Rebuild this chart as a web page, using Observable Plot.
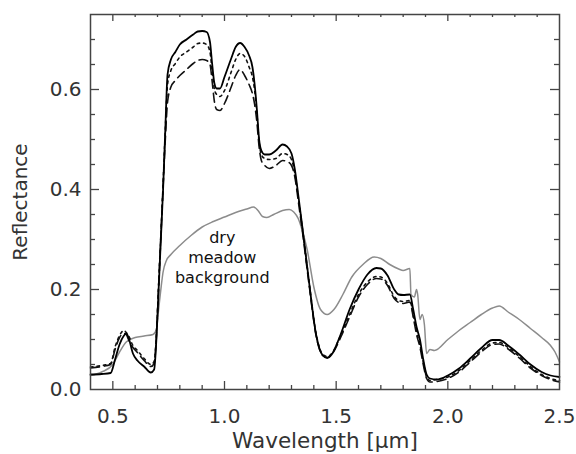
<!DOCTYPE html>
<html>
<head>
<meta charset="utf-8">
<script src="https://cdn.jsdelivr.net/npm/d3@7"></script>
<script src="https://cdn.jsdelivr.net/npm/@observablehq/plot@0.6"></script>
<style>
  html, body { margin: 0; padding: 0; background: white; }
</style>
</head>
<body>
<div id="chart"></div>
<script>
// Wavelength grid (µm) for the black canopy spectra
const wlBlack = [0.40, 0.45, 0.49, 0.51, 0.53, 0.55, 0.56, 0.57, 0.59, 0.61, 0.64, 0.67, 0.685, 0.695, 0.705, 0.715, 0.725, 0.735, 0.745, 0.76, 0.78, 0.80, 0.83, 0.86, 0.88, 0.90, 0.92, 0.935, 0.945, 0.955, 0.965, 0.98, 1.00, 1.03, 1.05, 1.07, 1.09, 1.11, 1.125, 1.135, 1.145, 1.155, 1.165, 1.18, 1.20, 1.23, 1.26, 1.28, 1.30, 1.315, 1.33, 1.35, 1.38, 1.41, 1.44, 1.46, 1.48, 1.52, 1.56, 1.60, 1.64, 1.68, 1.70, 1.73, 1.76, 1.78, 1.80, 1.83, 1.845, 1.86, 1.875, 1.89, 1.905, 1.92, 1.95, 2.00, 2.05, 2.10, 2.15, 2.20, 2.23, 2.27, 2.32, 2.37, 2.42, 2.46, 2.50];

// Solid line
const refSolid = [0.030, 0.031, 0.033, 0.060, 0.090, 0.108, 0.112, 0.104, 0.072, 0.058, 0.046, 0.034, 0.040, 0.100, 0.200, 0.300, 0.400, 0.520, 0.630, 0.660, 0.675, 0.690, 0.700, 0.710, 0.716, 0.717, 0.715, 0.695, 0.650, 0.612, 0.602, 0.602, 0.625, 0.662, 0.685, 0.693, 0.685, 0.668, 0.645, 0.610, 0.560, 0.500, 0.478, 0.470, 0.470, 0.478, 0.490, 0.486, 0.472, 0.440, 0.390, 0.320, 0.210, 0.110, 0.068, 0.063, 0.070, 0.110, 0.160, 0.200, 0.230, 0.243, 0.242, 0.228, 0.200, 0.190, 0.189, 0.190, 0.160, 0.125, 0.100, 0.060, 0.030, 0.022, 0.020, 0.028, 0.042, 0.062, 0.083, 0.099, 0.099, 0.088, 0.070, 0.050, 0.035, 0.028, 0.025];

// Short-dashed line
const refDotted = [0.045, 0.048, 0.052, 0.085, 0.108, 0.118, 0.114, 0.108, 0.088, 0.078, 0.062, 0.050, 0.056, 0.110, 0.210, 0.310, 0.410, 0.520, 0.610, 0.638, 0.652, 0.665, 0.675, 0.685, 0.692, 0.693, 0.690, 0.675, 0.635, 0.600, 0.590, 0.586, 0.598, 0.635, 0.660, 0.672, 0.666, 0.645, 0.625, 0.598, 0.552, 0.495, 0.470, 0.462, 0.460, 0.462, 0.472, 0.470, 0.460, 0.432, 0.385, 0.318, 0.210, 0.112, 0.070, 0.066, 0.072, 0.108, 0.150, 0.190, 0.215, 0.226, 0.225, 0.212, 0.186, 0.178, 0.176, 0.178, 0.150, 0.115, 0.090, 0.055, 0.025, 0.018, 0.020, 0.025, 0.038, 0.058, 0.078, 0.093, 0.094, 0.084, 0.066, 0.046, 0.030, 0.022, 0.018];

// Long-dashed line
const refDashed = [0.043, 0.046, 0.050, 0.080, 0.104, 0.112, 0.110, 0.100, 0.084, 0.074, 0.058, 0.046, 0.052, 0.105, 0.205, 0.305, 0.405, 0.500, 0.575, 0.605, 0.618, 0.628, 0.640, 0.652, 0.658, 0.660, 0.658, 0.650, 0.615, 0.575, 0.560, 0.558, 0.572, 0.605, 0.628, 0.640, 0.628, 0.610, 0.592, 0.570, 0.535, 0.485, 0.458, 0.448, 0.442, 0.448, 0.458, 0.456, 0.448, 0.425, 0.378, 0.312, 0.205, 0.108, 0.068, 0.064, 0.070, 0.104, 0.145, 0.185, 0.210, 0.222, 0.221, 0.208, 0.182, 0.174, 0.172, 0.175, 0.145, 0.110, 0.085, 0.050, 0.022, 0.015, 0.016, 0.022, 0.035, 0.055, 0.075, 0.090, 0.091, 0.081, 0.063, 0.043, 0.028, 0.020, 0.015];

// Grey: dry meadow background
const wlBackground = [0.40, 0.45, 0.50, 0.53, 0.56, 0.60, 0.64, 0.68, 0.695, 0.705, 0.715, 0.725, 0.74, 0.76, 0.80, 0.85, 0.90, 0.95, 1.00, 1.05, 1.10, 1.13, 1.15, 1.17, 1.19, 1.22, 1.26, 1.29, 1.31, 1.33, 1.35, 1.37, 1.40, 1.43, 1.46, 1.49, 1.53, 1.57, 1.62, 1.67, 1.70, 1.74, 1.78, 1.80, 1.83, 1.835, 1.85, 1.86, 1.865, 1.875, 1.885, 1.895, 1.905, 1.92, 1.94, 2.00, 2.05, 2.10, 2.15, 2.20, 2.23, 2.27, 2.32, 2.37, 2.42, 2.46, 2.48, 2.50];
const refBackground = [0.028, 0.035, 0.050, 0.075, 0.095, 0.104, 0.107, 0.110, 0.120, 0.160, 0.200, 0.235, 0.258, 0.270, 0.288, 0.308, 0.325, 0.336, 0.345, 0.354, 0.361, 0.365, 0.358, 0.346, 0.344, 0.350, 0.358, 0.360, 0.355, 0.342, 0.315, 0.280, 0.205, 0.160, 0.150, 0.160, 0.190, 0.225, 0.250, 0.265, 0.262, 0.250, 0.241, 0.238, 0.242, 0.190, 0.185, 0.200, 0.190, 0.140, 0.150, 0.130, 0.072, 0.080, 0.078, 0.100, 0.118, 0.134, 0.150, 0.163, 0.167, 0.155, 0.140, 0.122, 0.104, 0.088, 0.075, 0.055];

// Ticks
const xMajor = [0.5, 1.0, 1.5, 2.0];
const xMinor = [0.6, 0.7, 0.8, 0.9, 1.1, 1.2, 1.3, 1.4, 1.6, 1.7, 1.8, 1.9, 2.1, 2.2, 2.3, 2.4];
const xLabels = [0.5, 1.0, 1.5, 2.0, 2.5];
const yMajor = [0.2, 0.4, 0.6];
const yMinor = [0.05, 0.1, 0.15, 0.25, 0.3, 0.35, 0.45, 0.5, 0.55, 0.65, 0.7];
const yLabels = [0.0, 0.2, 0.4, 0.6];

// Annotation
const annotation = [{wl: 0.99, r: 0.265, label: "dry\nmeadow\nbackground"}];

const W = 576, H = 454;
const mL = 90, mR = 17, mT = 14, mB = 65;
const fw = W - mL - mR, fh = H - mT - mB;
const axisColor = "#444";

const chart = Plot.plot({
  width: W, height: H,
  marginLeft: mL, marginRight: mR, marginTop: mT, marginBottom: mB,
  x: {domain: [0.4, 2.5]},
  y: {domain: [0, 0.75]},
  style: {fontFamily: "DejaVu Sans, sans-serif", fontSize: "20px", color: "#333", background: "white"},
  marks: [
    Plot.line(wlBackground, {x: wlBackground, y: refBackground, stroke: "#8c8c8c", strokeWidth: 1.5, curve: "monotone-x"}),
    Plot.line(wlBlack, {x: wlBlack, y: refDashed, stroke: "#111", strokeWidth: 1.6, strokeDasharray: "9,5", curve: "monotone-x"}),
    Plot.line(wlBlack, {x: wlBlack, y: refDotted, stroke: "#111", strokeWidth: 1.6, strokeDasharray: "2.5,4", curve: "monotone-x"}),
    Plot.line(wlBlack, {x: wlBlack, y: refSolid, stroke: "#000", strokeWidth: 1.8, curve: "monotone-x"}),
    // inward ticks
    Plot.tickX(xMajor, {x: d => d, insetTop: fh - 8, stroke: axisColor, strokeWidth: 1.3}),
    Plot.tickX(xMinor, {x: d => d, insetTop: fh - 4, stroke: axisColor, strokeWidth: 1.3}),
    Plot.tickX(xMajor, {x: d => d, insetBottom: fh - 7, stroke: axisColor, strokeWidth: 1.3}),
    Plot.tickX(xMinor, {x: d => d, insetBottom: fh - 3, stroke: axisColor, strokeWidth: 1.3}),
    Plot.tickY(yMajor, {y: d => d, insetRight: fw - 9, stroke: axisColor, strokeWidth: 1.3}),
    Plot.tickY(yMinor, {y: d => d, insetRight: fw - 5, stroke: axisColor, strokeWidth: 1.3}),
    Plot.tickY(yMajor, {y: d => d, insetLeft: fw - 9, stroke: axisColor, strokeWidth: 1.3}),
    Plot.tickY(yMinor, {y: d => d, insetLeft: fw - 5, stroke: axisColor, strokeWidth: 1.3}),
    Plot.axisX({ticks: xLabels, tickSize: 0, tickPadding: 19, tickFormat: ".1f", label: null, fontSize: 20}),
    Plot.axisX({ticks: [], tickSize: 0, label: "Wavelength [μm]", labelArrow: "none", labelAnchor: "center", labelOffset: 58, fontSize: 21.5}),
    Plot.axisY({ticks: yLabels, tickSize: 0, tickPadding: 9, tickFormat: ".1f", label: "Reflectance", labelArrow: "none", labelAnchor: "center", labelOffset: 78, fontSize: 20}),
    Plot.frame({stroke: axisColor, strokeWidth: 1.5}),
    Plot.text(annotation, {x: "wl", y: "r", text: "label", fontSize: 16, lineHeight: 1.25, fill: "#111"})
  ]
});
document.getElementById("chart").appendChild(chart);
</script>
</body>
</html>
